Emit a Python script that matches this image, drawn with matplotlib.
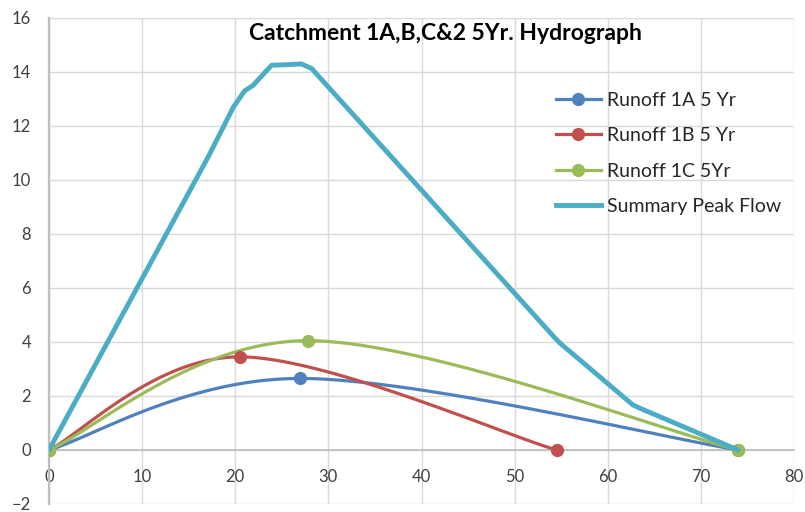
import numpy as np
import matplotlib
matplotlib.use("Agg")
import matplotlib.pyplot as plt

title = "Catchment 1A,B,C&2 5Yr. Hydrograph"

x_1a = [0, 27.0, 74.0]
y_1a = [0, 2.65, 0]
x_1b = [0, 20.5, 54.5]
y_1b = [0, 3.45, 0]
x_1c = [0, 27.8, 74.0]
y_1c = [0, 4.05, 0]
x_sum = [0, 17.1, 19.8, 21.0, 21.9, 23.9, 25.5, 27.1, 28.2, 54.2, 54.9, 62.7, 63.5, 74.0]
y_sum = [0, 10.86, 12.7, 13.3, 13.5, 14.25, 14.27, 14.3, 14.13, 4.2, 3.95, 1.67, 1.54, 0]

labels = ["Runoff 1A 5 Yr", "Runoff 1B 5 Yr", "Runoff 1C 5Yr", "Summary Peak Flow"]
colors = ["#4F81BD", "#C0504D", "#9BBB59", "#4BACC6"]


def excel_smooth(x, y, n=40):
    P = np.column_stack([x, y]).astype(float)
    pts = [P[0]]
    t = np.linspace(0, 1, n)[1:, None]
    for i in range(len(P) - 1):
        p0 = P[i - 1] if i > 0 else P[i]
        p1 = P[i]
        p2 = P[i + 1]
        p3 = P[i + 2] if i + 2 < len(P) else P[i + 1]
        c1 = p1 + (p2 - p0) / 6.0
        c2 = p2 - (p3 - p1) / 6.0
        seg = ((1 - t) ** 3) * p1 + 3 * ((1 - t) ** 2) * t * c1 + 3 * (1 - t) * t ** 2 * c2 + t ** 3 * p2
        pts.extend(seg)
    pts = np.array(pts)
    return pts[:, 0], pts[:, 1]


plt.rcParams['font.family'] = ['Lato', 'DejaVu Sans']

fig = plt.figure(figsize=(8.05, 5.12), dpi=100)
ax = fig.add_axes([49 / 805, 8 / 512, (794 - 49) / 805, (504 - 18) / 512])

series = [(x_1a, y_1a), (x_1b, y_1b), (x_1c, y_1c)]
handles = []
for (xs, ys), c, lab in zip(series, colors[:3], labels[:3]):
    sx, sy = excel_smooth(xs, ys)
    ax.plot(sx, sy, color=c, lw=2.3, solid_capstyle='round', zorder=3)
    ax.plot(xs, ys, 'o', color=c, ms=8.5, zorder=4)
    h, = ax.plot([], [], '-o', color=c, lw=2.3, ms=8.5, label=lab)
    handles.append(h)

ax.plot(x_sum, y_sum, color=colors[3], lw=3.5, solid_capstyle='round',
        solid_joinstyle='round', zorder=5)
h, = ax.plot([], [], '-', color=colors[3], lw=3.5, label=labels[3])
handles.append(h)

ax.set_xlim(0, 80)
ax.set_ylim(-2, 16)
ax.set_xticks(np.arange(0, 81, 10))
ax.set_yticks(np.arange(-2, 17, 2))
ax.grid(True, color="#D9D9D9", lw=1.0, zorder=0)
ax.set_axisbelow(True)

for s in ['top', 'right']:
    ax.spines[s].set_visible(False)
ax.spines['bottom'].set_position(('data', 0))
ax.spines['bottom'].set_color('#BFBFBF')
ax.spines['bottom'].set_linewidth(1.3)
ax.spines['left'].set_color('#BFBFBF')
ax.spines['left'].set_linewidth(1.6)

ax.tick_params(axis='both', length=0, labelsize=12, labelcolor='#404040')
ax.tick_params(axis='x', pad=14)
ax.tick_params(axis='y', pad=13)

fig.text(445 / 805, 1 - 34 / 512, title, ha='center', va='center',
         fontsize=16.5, fontweight='bold', color='black')

leg = ax.legend(handles=handles, loc='upper left',
                bbox_to_anchor=(556 / 805, 1 - 92 / 512), bbox_transform=fig.transFigure,
                frameon=False, fontsize=14, handlelength=2.3, handletextpad=0.3,
                labelspacing=0.94, borderpad=0, borderaxespad=0)
for t in leg.get_texts():
    t.set_color('#262626')

fig.savefig("out.png", dpi=100, facecolor='white')
